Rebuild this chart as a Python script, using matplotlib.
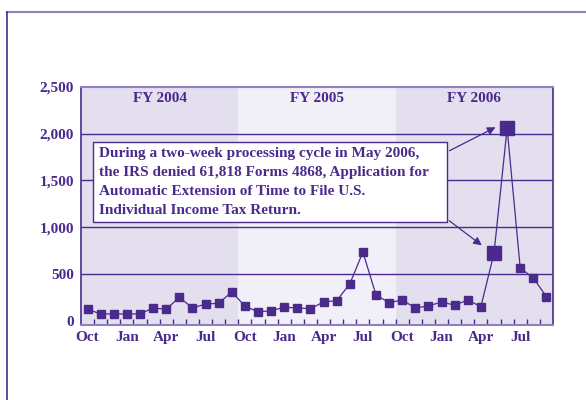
import matplotlib
matplotlib.use("Agg")
import matplotlib.pyplot as plt
from matplotlib.lines import Line2D
from matplotlib.patches import Rectangle

months = ["Oct", "Nov", "Dec", "Jan", "Feb", "Mar", "Apr", "May", "Jun", "Jul", "Aug", "Sep"] * 3
values = [123, 73, 73, 73, 73, 137, 123, 251, 137, 179, 187, 308,
          158, 94, 108, 144, 137, 129, 201, 215, 393, 734, 276, 193,
          222, 137, 158, 201, 166, 222, 151, 721, 2056, 564, 457, 257]
fy_labels = ["FY 2004", "FY 2005", "FY 2006"]
yticks = [0, 500, 1000, 1500, 2000, 2500]
ytick_labels = ["0", "500", "1,000", "1,500", "2,000", "2,500"]
xtick_labels = ["Oct", "Jan", "Apr", "Jul"] * 3
highlight = [31, 32]
note = ("During a two-week processing cycle in May 2006,\n"
        "the IRS denied 61,818 Forms 4868, Application for\n"
        "Automatic Extension of Time to File U.S.\n"
        "Individual Income Tax Return.")

PURPLE = "#4a2b8c"
LIGHT = "#8f80bf"
SHADE_DARK = "#e3dfee"
SHADE_LIGHT = "#f1eff8"
FONT = "Liberation Serif"

W, H = 586, 400
fig = plt.figure(figsize=(W / 100, H / 100), dpi=100)
fig.patch.set_facecolor("white")

# outer frame
fig.add_artist(Line2D([7 / W, 1.01], [1 - 12 / H, 1 - 12 / H], color=LIGHT, lw=1.5))
fig.add_artist(Line2D([7 / W, 7 / W], [1 - 12 / H, -0.01], color=PURPLE, lw=1.2))

ax = fig.add_axes([81 / W, 1 - 325 / H, (553 - 81) / W, (325 - 86.7) / H])
n = len(values)
xs = [i + 0.5 for i in range(n)]
ax.set_xlim(0, n)
ax.set_ylim(-45, 2500)

# FY shading
for k in range(3):
    ax.axvspan(12 * k, 12 * (k + 1), color=SHADE_LIGHT if k == 1 else SHADE_DARK, zorder=0, lw=0)
    ax.text(12 * k + 6, 2375, fy_labels[k], ha="center", va="center", family=FONT,
            fontweight="bold", fontsize=11, color=PURPLE)

# grid lines
for y in yticks[1:-1]:
    ax.axhline(y, color=PURPLE, lw=1.0, zorder=1)

ax.plot(xs, values, color=PURPLE, lw=0.9, zorder=3)
normal = [i for i in range(n) if i not in highlight]
ax.plot([xs[i] for i in normal], [values[i] for i in normal], ls="none", marker="s",
        ms=5.6, color=PURPLE, zorder=4)
ax.plot([xs[i] for i in highlight], [values[i] for i in highlight], ls="none", marker="s",
        ms=10.5, color=PURPLE, zorder=4)

# spines
for s in ["left", "right"]:
    ax.spines[s].set_color(PURPLE)
    ax.spines[s].set_linewidth(1.2)
ax.spines["top"].set_color(LIGHT)
ax.spines["top"].set_linewidth(1.5)
ax.spines["bottom"].set_color(LIGHT)
ax.spines["bottom"].set_linewidth(1.5)

ax.set_yticks(yticks)
ax.set_yticklabels(ytick_labels)
ax.tick_params(axis="y", length=0, pad=5, labelcolor=PURPLE)
ax.set_xticks(list(range(1, n)))
ax.set_xticklabels([])
ax.set_xticks(xs[::3], minor=True)
ax.set_xticklabels(xtick_labels, minor=True)
ax.tick_params(axis="x", which="major", direction="in", length=4, width=1.0, color=PURPLE)
ax.tick_params(axis="x", which="minor", length=0, pad=4, labelcolor=PURPLE)
for lbl in ax.get_xticklabels(minor=True) + ax.get_yticklabels():
    lbl.set_family(FONT)
    lbl.set_fontweight("bold")
    lbl.set_fontsize(11)

# annotation box
bx0, bx1 = 93, 447
by0, by1 = 142, 222
def data_x(px):
    return (px - 81) / (553 - 81) * n
def data_y(py):
    return -45 + (325 - py) / (325 - 86.7) * 2545
box = Rectangle((data_x(bx0), data_y(by1)), data_x(bx1) - data_x(bx0), data_y(by0) - data_y(by1),
                facecolor="white", edgecolor=PURPLE, lw=1.0, zorder=5)
ax.add_patch(box)
ax.text(data_x(99), data_y(182), note, ha="left", va="center", family=FONT, fontweight="bold",
        fontsize=11, color=PURPLE, linespacing=1.6, zorder=6)

ax.annotate("", xy=(data_x(498), data_y(126)), xytext=(data_x(447), data_y(152)),
            arrowprops=dict(arrowstyle="-|>", color=PURPLE, lw=0.9, mutation_scale=12), zorder=6)
ax.annotate("", xy=(data_x(484), data_y(247)), xytext=(data_x(447), data_y(219)),
            arrowprops=dict(arrowstyle="-|>", color=PURPLE, lw=0.9, mutation_scale=12), zorder=6)

fig.savefig("out.png", dpi=100)
